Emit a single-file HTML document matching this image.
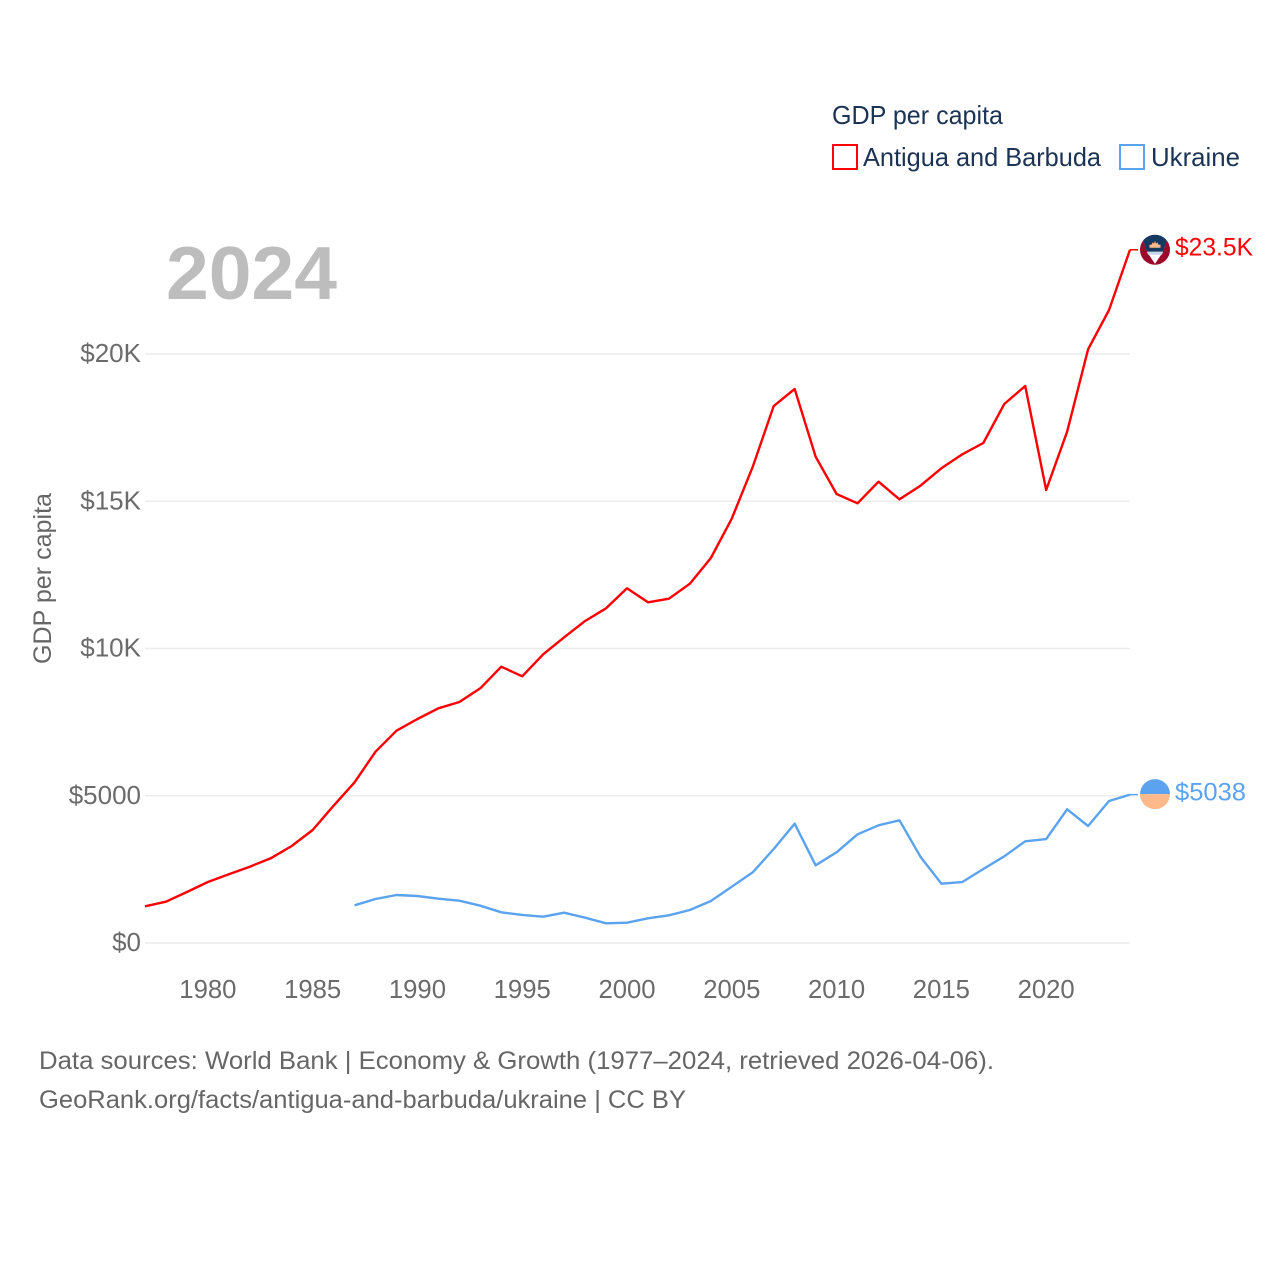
<!DOCTYPE html>
<html lang="en">
<head>
<meta charset="utf-8">
<title>GDP per capita: Antigua and Barbuda vs Ukraine</title>
<style>
html,body{margin:0;padding:0;background:#fff;}
svg{display:block;}
text{font-family:"Liberation Sans",sans-serif;}
</style>
</head>
<body>
<svg id="chart" xmlns="http://www.w3.org/2000/svg" width="1280" height="1280" viewBox="0 0 1280 1280">
  <defs>
    <clipPath id="marker-clip"><circle cx="0" cy="0" r="15"></circle></clipPath>
  </defs>
  <rect x="0" y="0" width="1280" height="1280" fill="#ffffff"></rect>

  <g id="grid"></g>
  <g id="y-ticks"></g>
  <g id="x-ticks"></g>

  <text x="166" y="299" font-size="75" font-weight="700" fill="#bdbdbd" textLength="171" lengthAdjust="spacingAndGlyphs">2024</text>
  <text transform="translate(51,664) rotate(-90)" font-size="25" fill="#666666" textLength="171" lengthAdjust="spacingAndGlyphs">GDP per capita</text>

  <g>
    <text x="832" y="124" font-size="26" fill="#1b3354" textLength="171" lengthAdjust="spacingAndGlyphs">GDP per capita</text>
    <rect x="833" y="145" width="24" height="24" fill="none" stroke="#ff0000" stroke-width="2"></rect>
    <text x="863" y="166" font-size="26" fill="#1b3354" textLength="238" lengthAdjust="spacingAndGlyphs">Antigua and Barbuda</text>
    <rect x="1120" y="145" width="24" height="24" fill="none" stroke="#5ba3ef" stroke-width="2"></rect>
    <text x="1151" y="166" font-size="26" fill="#1b3354" textLength="89" lengthAdjust="spacingAndGlyphs">Ukraine</text>
  </g>

  <g id="series"></g>

  <g id="marker-antigua">
    <g clip-path="url(#marker-clip)">
      <rect x="-16" y="-16" width="32" height="32" fill="#9b0a2a"></rect>
      <polygon points="-14,-15 14,-15 7.5,3 0,14 -7.5,3" fill="#ffffff"></polygon>
      <polygon points="-14,-15 14,-15 8,2 -8,2" fill="#163a5f"></polygon>
      <polygon points="-8,2 8,2 7,5 -7,5" fill="#c4d6e8"></polygon>
      <polygon points="-5.5,-2 -5.5,-5 -3.5,-5 -2.5,-7.5 -1,-6 0,-9 1,-6 2.5,-7.5 3.5,-5 5.5,-5 5.5,-2" fill="#ffb98a"></polygon>
    </g>
  </g>
  <text id="label-antigua" x="1175" font-size="25" fill="#ff0000" textLength="78" lengthAdjust="spacingAndGlyphs">$23.5K</text>

  <g id="marker-ukraine">
    <g clip-path="url(#marker-clip)">
      <rect x="-16" y="-16" width="32" height="16" fill="#5ba3ef"></rect>
      <rect x="-16" y="0" width="32" height="16" fill="#ffb98a"></rect>
    </g>
  </g>
  <text id="label-ukraine" x="1175" font-size="25" fill="#5ba3ef" textLength="71" lengthAdjust="spacingAndGlyphs">$5038</text>

  <text x="39" y="1069" font-size="25" fill="#666666" textLength="955" lengthAdjust="spacingAndGlyphs">Data sources: World Bank | Economy &amp; Growth (1977–2024, retrieved 2026-04-06).</text>
  <text x="39" y="1108" font-size="25" fill="#666666" textLength="647" lengthAdjust="spacingAndGlyphs">GeoRank.org/facts/antigua-and-barbuda/ukraine | CC BY</text>
</svg>

<script>
const antiguaYears = [1977,1978,1979,1980,1981,1982,1983,1984,1985,1986,1987,1988,1989,1990,1991,1992,1993,1994,1995,1996,1997,1998,1999,2000,2001,2002,2003,2004,2005,2006,2007,2008,2009,2010,2011,2012,2013,2014,2015,2016,2017,2018,2019,2020,2021,2022,2023,2024];
const antiguaValues = [1246,1402,1732,2071,2333,2591,2876,3294,3837,4662,5457,6496,7209,7606,7969,8183,8649,9382,9056,9803,10380,10934,11365,12044,11569,11691,12200,13073,14414,16173,18234,18812,16513,15246,14930,15664,15066,15528,16119,16594,16978,18302,18914,15382,17362,20160,21494,23540];
const ukraineYears = [1987,1988,1989,1990,1991,1992,1993,1994,1995,1996,1997,1998,1999,2000,2001,2002,2003,2004,2005,2006,2007,2008,2009,2010,2011,2012,2013,2014,2015,2016,2017,2018,2019,2020,2021,2022,2023,2024];
const ukraineValues = [1280,1494,1630,1596,1504,1436,1267,1042,951,893,1029,859,669,689,839,941,1121,1426,1912,2401,3192,4051,2638,3080,3691,3997,4166,2930,2014,2071,2513,2944,3453,3531,4540,3973,4822,5038];
const yTickValues = [0,5000,10000,15000,20000];
const yTickLabels = ["$0","$5000","$10K","$15K","$20K"];
const xTickValues = [1980,1985,1990,1995,2000,2005,2010,2015,2020];

const SVG_NS = "http://www.w3.org/2000/svg";
const PLOT_LEFT = 145;
const PLOT_RIGHT = 1130;
const MARKER_X = 1155;

function xScale(year) {
  return PLOT_LEFT + (year - 1977) * (PLOT_RIGHT - PLOT_LEFT) / (2024 - 1977);
}
function yScale(value) {
  return 943 - value * (943 - 354) / 20000;
}
function makeEl(tag, parent) {
  const el = document.createElementNS(SVG_NS, tag);
  parent.appendChild(el);
  return el;
}

const gridGroup = document.getElementById("grid");
const yTickGroup = document.getElementById("y-ticks");
const xTickGroup = document.getElementById("x-ticks");
const seriesGroup = document.getElementById("series");

yTickValues.forEach(function (value, i) {
  const line = makeEl("line", gridGroup);
  
  
  line.setAttribute("x1", PLOT_LEFT);
  line.setAttribute("x2", PLOT_RIGHT);
  line.setAttribute("y1", yScale(value));
  line.setAttribute("y2", yScale(value));
  line.setAttribute("stroke", "#ececec");
  line.setAttribute("stroke-width", "1.4");

  const label = makeEl("text", yTickGroup);
  
  
  label.setAttribute("x", 141);
  label.setAttribute("y", yScale(value) + 8);
  label.setAttribute("text-anchor", "end");
  label.setAttribute("font-size", "26");
  label.setAttribute("fill", "#6b6b6b");
  label.textContent = yTickLabels[i];
});

xTickValues.forEach(function (year) {
  const label = makeEl("text", xTickGroup);
  
  
  label.setAttribute("x", xScale(year));
  label.setAttribute("y", 998);
  label.setAttribute("text-anchor", "middle");
  label.setAttribute("font-size", "25.7");
  label.setAttribute("fill", "#6b6b6b");
  label.textContent = String(year);
});

function linePoints(years, values) {
  return years.map(function (year, i) {
    return xScale(year).toFixed(2) + "," + yScale(values[i]).toFixed(2);
  }).join(" ");
}

const antiguaLine = makeEl("polyline", seriesGroup);


antiguaLine.setAttribute("points", linePoints(antiguaYears, antiguaValues));
antiguaLine.setAttribute("fill", "none");
antiguaLine.setAttribute("stroke", "#ff0000");
antiguaLine.setAttribute("stroke-width", "2.4");
antiguaLine.setAttribute("stroke-linejoin", "round");

const ukraineLine = makeEl("polyline", seriesGroup);


ukraineLine.setAttribute("points", linePoints(ukraineYears, ukraineValues));
ukraineLine.setAttribute("fill", "none");
ukraineLine.setAttribute("stroke", "#5ba3ef");
ukraineLine.setAttribute("stroke-width", "2.4");
ukraineLine.setAttribute("stroke-linejoin", "round");

const antiguaEndY = yScale(antiguaValues[antiguaValues.length - 1]);
const ukraineEndY = yScale(ukraineValues[ukraineValues.length - 1]);

const antiguaStub = makeEl("line", seriesGroup);


antiguaStub.setAttribute("x1", PLOT_RIGHT);
antiguaStub.setAttribute("x2", MARKER_X - 17);
antiguaStub.setAttribute("y1", antiguaEndY);
antiguaStub.setAttribute("y2", antiguaEndY);
antiguaStub.setAttribute("stroke", "#ff0000");
antiguaStub.setAttribute("stroke-width", "1.5");

const ukraineStub = makeEl("line", seriesGroup);


ukraineStub.setAttribute("x1", PLOT_RIGHT);
ukraineStub.setAttribute("x2", MARKER_X - 17);
ukraineStub.setAttribute("y1", ukraineEndY);
ukraineStub.setAttribute("y2", ukraineEndY);
ukraineStub.setAttribute("stroke", "#5ba3ef");
ukraineStub.setAttribute("stroke-width", "1.5");

document.getElementById("marker-antigua").setAttribute("transform", "translate(" + MARKER_X + "," + antiguaEndY + ")");
document.getElementById("marker-ukraine").setAttribute("transform", "translate(" + MARKER_X + "," + (ukraineEndY - 0.5) + ")");
document.getElementById("label-antigua").setAttribute("y", antiguaEndY + 6);
document.getElementById("label-ukraine").setAttribute("y", ukraineEndY + 6);
</script>
</body>
</html>
